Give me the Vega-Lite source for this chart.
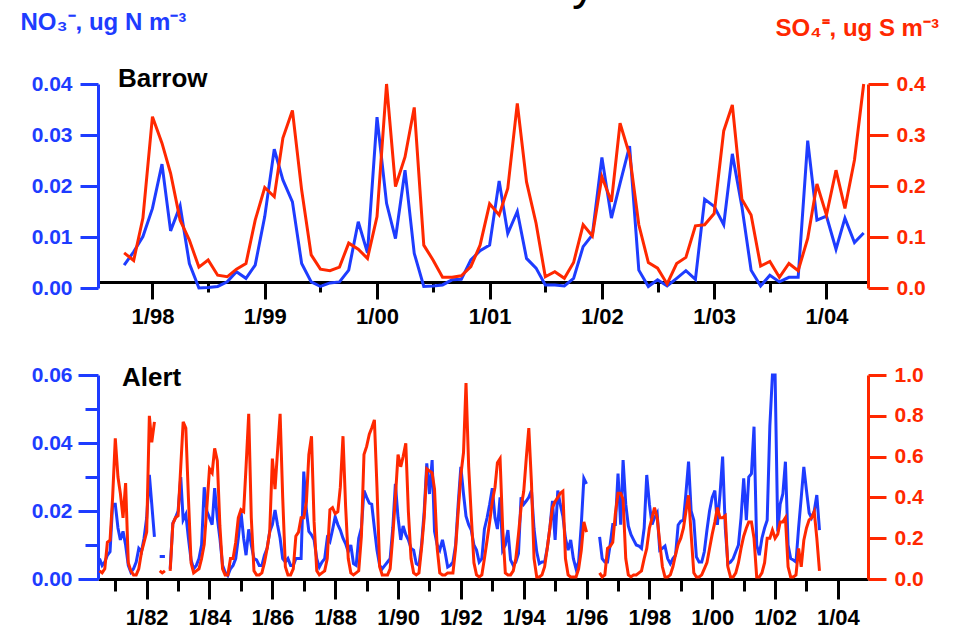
{
"$schema": "https://vega.github.io/schema/vega-lite/v6.json",
"autosize": {"type": "none"},
"padding": {"left": 98, "top": 84, "right": 859, "bottom": 547},
"background": "white",
"title": {"text": "y", "anchor": "start", "frame": "group", "dx": 474, "offset": 0, "dy": 37, "baseline": "alphabetic", "fontSize": 48, "fontWeight": "normal", "color": "black", "font": "Liberation Sans"},
"datasets": {
"barrow": [
{"d":"1997/10/01","n":0.0045,"s":0.069},{"d":"1997/11/01","n":0.0071,"s":0.054},{"d":"1997/12/01","n":0.0101,"s":0.137},
{"d":"1998/01/01","n":0.0156,"s":0.336},{"d":"1998/02/01","n":0.0243,"s":0.284},{"d":"1998/03/01","n":0.0112,"s":0.225},{"d":"1998/04/01","n":0.0161,"s":0.133},{"d":"1998/05/01","n":0.0048,"s":0.094},{"d":"1998/06/01","n":0.0,"s":0.041},{"d":"1998/07/01","n":0.0001,"s":0.055},{"d":"1998/08/01","n":0.0003,"s":0.025},{"d":"1998/09/01","n":0.0012,"s":0.022},{"d":"1998/10/01","n":0.0032,"s":0.037},{"d":"1998/11/01","n":0.0019,"s":0.048},{"d":"1998/12/01","n":0.0045,"s":0.133},
{"d":"1999/01/01","n":0.014,"s":0.197},{"d":"1999/02/01","n":0.0272,"s":0.179},{"d":"1999/03/01","n":0.0212,"s":0.294},{"d":"1999/04/01","n":0.0169,"s":0.348},{"d":"1999/05/01","n":0.0048,"s":0.192},{"d":"1999/06/01","n":0.0012,"s":0.065},{"d":"1999/07/01","n":0.0003,"s":0.037},{"d":"1999/08/01","n":0.001,"s":0.034},{"d":"1999/09/01","n":0.0012,"s":0.041},{"d":"1999/10/01","n":0.0035,"s":0.088},{"d":"1999/11/01","n":0.013,"s":0.076},{"d":"1999/12/01","n":0.0069,"s":0.058},
{"d":"2000/01/01","n":0.0335,"s":0.14},{"d":"2000/02/01","n":0.0166,"s":0.4},{"d":"2000/03/01","n":0.0097,"s":0.199},{"d":"2000/04/01","n":0.0231,"s":0.257},{"d":"2000/05/01","n":0.0068,"s":0.354},{"d":"2000/06/01","n":0.0003,"s":0.084},{"d":"2000/07/01","n":0.0004,"s":0.055},{"d":"2000/08/01","n":0.0006,"s":0.021},{"d":"2000/09/01","n":0.0016,"s":0.021},{"d":"2000/10/01","n":0.0017,"s":0.024},{"d":"2000/11/01","n":0.0055,"s":0.042},{"d":"2000/12/01","n":0.0073,"s":0.084},
{"d":"2001/01/01","n":0.0084,"s":0.165},{"d":"2001/02/01","n":0.021,"s":0.143},{"d":"2001/03/01","n":0.0107,"s":0.195},{"d":"2001/04/01","n":0.015,"s":0.362},{"d":"2001/05/01","n":0.0058,"s":0.208},{"d":"2001/06/01","n":0.0039,"s":0.127},{"d":"2001/07/01","n":0.0006,"s":0.022},{"d":"2001/08/01","n":0.0006,"s":0.032},{"d":"2001/09/01","n":0.0004,"s":0.019},{"d":"2001/10/01","n":0.0019,"s":0.05},{"d":"2001/11/01","n":0.0081,"s":0.124},{"d":"2001/12/01","n":0.0104,"s":0.102},
{"d":"2002/01/01","n":0.0256,"s":0.218},{"d":"2002/02/01","n":0.0137,"s":0.169},{"d":"2002/03/01","n":0.0205,"s":0.323},{"d":"2002/04/01","n":0.0278,"s":0.261},{"d":"2002/05/01","n":0.0035,"s":0.124},{"d":"2002/06/01","n":0.0003,"s":0.05},{"d":"2002/07/01","n":0.0016,"s":0.039},{"d":"2002/08/01","n":0.0004,"s":0.008},{"d":"2002/09/01","n":0.0019,"s":0.048},{"d":"2002/10/01","n":0.0034,"s":0.06},{"d":"2002/11/01","n":0.0017,"s":0.122},{"d":"2002/12/01","n":0.0174,"s":0.124},
{"d":"2003/01/01","n":0.016,"s":0.146},{"d":"2003/02/01","n":0.0124,"s":0.308},{"d":"2003/03/01","n":0.0263,"s":0.359},{"d":"2003/04/01","n":0.016,"s":0.174},{"d":"2003/05/01","n":0.0035,"s":0.143},{"d":"2003/06/01","n":0.0004,"s":0.043},{"d":"2003/07/01","n":0.0025,"s":0.052},{"d":"2003/08/01","n":0.0012,"s":0.021},{"d":"2003/09/01","n":0.0021,"s":0.048},{"d":"2003/10/01","n":0.0021,"s":0.034},{"d":"2003/11/01","n":0.0289,"s":0.097},{"d":"2003/12/01","n":0.0133,"s":0.204},
{"d":"2004/01/01","n":0.0141,"s":0.143},{"d":"2004/02/01","n":0.0076,"s":0.231},{"d":"2004/03/01","n":0.0137,"s":0.156},{"d":"2004/04/01","n":0.0089,"s":0.251},{"d":"2004/05/01","n":0.0108,"s":0.4}
],
"alert": [
{"d":"1980/07/01","n":0.006,"s":0.04},{"d":"1980/08/01","n":0.004,"s":0.03},{"d":"1980/09/01","n":0.005,"s":0.05},{"d":"1980/10/01","n":0.007,"s":0.18},{"d":"1980/11/01","n":0.008,"s":0.19},{"d":"1980/12/01","n":0.022,"s":0.40},
{"d":"1981/01/01","n":0.022,"s":0.69},{"d":"1981/02/01","n":0.015,"s":0.50},{"d":"1981/03/01","n":0.0115,"s":0.42},{"d":"1981/04/01","n":0.014,"s":0.30},{"d":"1981/05/01","n":0.010,"s":0.47},{"d":"1981/06/01","n":0.004,"s":0.08},{"d":"1981/07/01","n":0.002,"s":0.04},{"d":"1981/08/01","n":0.003,"s":0.02},{"d":"1981/09/01","n":0.005,"s":0.02},{"d":"1981/10/01","n":0.009,"s":0.05},{"d":"1981/11/01","n":0.008,"s":0.13},{"d":"1981/12/01","n":0.012,"s":0.18},
{"d":"1982/01/01","n":0.018,"s":0.23},{"d":"1982/02/01","n":0.0306,"s":0.80},{"d":"1982/03/01","n":0.022,"s":0.67},{"d":"1982/04/01","n":0.0124,"s":0.77},{"d":"1982/05/01","n":null,"s":null},{"d":"1982/06/01","n":0.0066,"s":0.04},{"d":"1982/07/01","n":0.0066,"s":0.03},{"d":"1982/08/01","n":0.0066,"s":0.04},{"d":"1982/09/01","n":null,"s":null},{"d":"1982/10/01","n":0.003,"s":0.04},{"d":"1982/11/01","n":0.0164,"s":0.27},{"d":"1982/12/01","n":0.018,"s":0.30},
{"d":"1983/01/01","n":0.020,"s":0.31},{"d":"1983/02/01","n":0.030,"s":0.55},{"d":"1983/03/01","n":0.0174,"s":0.77},{"d":"1983/04/01","n":0.019,"s":0.74},{"d":"1983/05/01","n":0.012,"s":0.40},{"d":"1983/06/01","n":0.0056,"s":0.08},{"d":"1983/07/01","n":0.003,"s":0.03},{"d":"1983/08/01","n":0.004,"s":0.04},{"d":"1983/09/01","n":0.006,"s":0.05},{"d":"1983/10/01","n":0.010,"s":0.10},{"d":"1983/11/01","n":0.027,"s":0.17},{"d":"1983/12/01","n":0.020,"s":0.35},
{"d":"1984/01/01","n":0.018,"s":0.54},{"d":"1984/02/01","n":0.016,"s":0.52},{"d":"1984/03/01","n":0.0267,"s":0.64},{"d":"1984/04/01","n":0.018,"s":0.58},{"d":"1984/05/01","n":0.012,"s":0.26},{"d":"1984/06/01","n":0.004,"s":0.05},{"d":"1984/07/01","n":0.002,"s":0.02},{"d":"1984/08/01","n":0.001,"s":0.02},{"d":"1984/09/01","n":0.003,"s":0.10},{"d":"1984/10/01","n":0.004,"s":0.10},{"d":"1984/11/01","n":0.006,"s":0.18},{"d":"1984/12/01","n":0.012,"s":0.30},
{"d":"1985/01/01","n":0.0198,"s":0.34},{"d":"1985/02/01","n":0.012,"s":0.33},{"d":"1985/03/01","n":0.007,"s":0.55},{"d":"1985/04/01","n":0.0146,"s":0.81},{"d":"1985/05/01","n":0.010,"s":0.30},{"d":"1985/06/01","n":0.006,"s":0.04},{"d":"1985/07/01","n":0.0056,"s":0.02},{"d":"1985/08/01","n":0.004,"s":0.02},{"d":"1985/09/01","n":0.004,"s":0.03},{"d":"1985/10/01","n":0.007,"s":0.08},{"d":"1985/11/01","n":0.009,"s":0.15},{"d":"1985/12/01","n":0.0139,"s":0.23},
{"d":"1986/01/01","n":0.016,"s":0.59},{"d":"1986/02/01","n":0.0203,"s":0.44},{"d":"1986/03/01","n":0.016,"s":0.62},{"d":"1986/04/01","n":0.012,"s":0.81},{"d":"1986/05/01","n":0.006,"s":0.40},{"d":"1986/06/01","n":0.005,"s":0.06},{"d":"1986/07/01","n":0.006,"s":0.02},{"d":"1986/08/01","n":0.004,"s":0.02},{"d":"1986/09/01","n":0.004,"s":0.05},{"d":"1986/10/01","n":0.006,"s":0.21},{"d":"1986/11/01","n":0.006,"s":0.23},{"d":"1986/12/01","n":0.006,"s":0.30},
{"d":"1987/01/01","n":0.0316,"s":0.30},{"d":"1987/02/01","n":0.020,"s":0.38},{"d":"1987/03/01","n":0.014,"s":0.61},{"d":"1987/04/01","n":0.013,"s":0.70},{"d":"1987/05/01","n":0.0115,"s":0.28},{"d":"1987/06/01","n":0.006,"s":0.04},{"d":"1987/07/01","n":0.0035,"s":0.02},{"d":"1987/08/01","n":0.005,"s":0.03},{"d":"1987/09/01","n":0.006,"s":0.04},{"d":"1987/10/01","n":0.012,"s":0.10},{"d":"1987/11/01","n":0.011,"s":0.34},{"d":"1987/12/01","n":0.0144,"s":0.35},
{"d":"1988/01/01","n":0.0183,"s":0.32},{"d":"1988/02/01","n":0.016,"s":0.33},{"d":"1988/03/01","n":0.0144,"s":0.45},{"d":"1988/04/01","n":0.012,"s":0.70},{"d":"1988/05/01","n":0.0104,"s":0.36},{"d":"1988/06/01","n":0.008,"s":0.10},{"d":"1988/07/01","n":0.010,"s":0.03},{"d":"1988/08/01","n":0.0045,"s":0.02},{"d":"1988/09/01","n":0.004,"s":0.03},{"d":"1988/10/01","n":0.012,"s":0.04},{"d":"1988/11/01","n":0.015,"s":0.21},{"d":"1988/12/01","n":0.026,"s":0.61},
{"d":"1989/01/01","n":0.024,"s":0.65},{"d":"1989/02/01","n":0.0223,"s":0.71},{"d":"1989/03/01","n":0.022,"s":0.74},{"d":"1989/04/01","n":0.015,"s":0.78},{"d":"1989/05/01","n":0.0085,"s":0.45},{"d":"1989/06/01","n":0.004,"s":0.06},{"d":"1989/07/01","n":0.003,"s":0.02},{"d":"1989/08/01","n":0.004,"s":0.02},{"d":"1989/09/01","n":0.005,"s":0.02},{"d":"1989/10/01","n":0.006,"s":0.05},{"d":"1989/11/01","n":0.015,"s":0.21},{"d":"1989/12/01","n":0.028,"s":0.40},
{"d":"1990/01/01","n":0.018,"s":0.61},{"d":"1990/02/01","n":0.0115,"s":0.55},{"d":"1990/03/01","n":0.0156,"s":0.60},{"d":"1990/04/01","n":0.013,"s":0.665},{"d":"1990/05/01","n":0.0115,"s":0.33},{"d":"1990/06/01","n":0.009,"s":0.10},{"d":"1990/07/01","n":0.0085,"s":0.03},{"d":"1990/08/01","n":0.0045,"s":0.02},{"d":"1990/09/01","n":0.004,"s":0.03},{"d":"1990/10/01","n":0.010,"s":0.15},{"d":"1990/11/01","n":0.020,"s":0.30},{"d":"1990/12/01","n":0.034,"s":0.54},
{"d":"1991/01/01","n":0.025,"s":0.53},{"d":"1991/02/01","n":0.035,"s":0.52},{"d":"1991/03/01","n":0.014,"s":0.44},{"d":"1991/04/01","n":0.010,"s":0.15},{"d":"1991/05/01","n":0.0085,"s":0.03},{"d":"1991/06/01","n":0.0115,"s":0.02},{"d":"1991/07/01","n":0.008,"s":0.02},{"d":"1991/08/01","n":0.0035,"s":0.03},{"d":"1991/09/01","n":0.004,"s":0.03},{"d":"1991/10/01","n":0.005,"s":0.03},{"d":"1991/11/01","n":0.010,"s":0.15},{"d":"1991/12/01","n":0.022,"s":0.33},
{"d":"1992/01/01","n":0.033,"s":0.51},{"d":"1992/02/01","n":0.025,"s":0.62},{"d":"1992/03/01","n":0.0185,"s":0.96},{"d":"1992/04/01","n":0.016,"s":0.55},{"d":"1992/05/01","n":0.0144,"s":0.31},{"d":"1992/06/01","n":0.010,"s":0.08},{"d":"1992/07/01","n":0.0085,"s":0.02},{"d":"1992/08/01","n":0.005,"s":0.01},{"d":"1992/09/01","n":0.006,"s":0.02},{"d":"1992/10/01","n":0.0147,"s":0.10},{"d":"1992/11/01","n":0.018,"s":0.19},{"d":"1992/12/01","n":0.022,"s":0.28},
{"d":"1993/01/01","n":0.0267,"s":0.38},{"d":"1993/02/01","n":0.018,"s":0.45},{"d":"1993/03/01","n":0.0147,"s":0.57},{"d":"1993/04/01","n":0.024,"s":0.59},{"d":"1993/05/01","n":0.0085,"s":0.25},{"d":"1993/06/01","n":0.010,"s":0.03},{"d":"1993/07/01","n":0.0144,"s":0.02},{"d":"1993/08/01","n":0.0056,"s":0.02},{"d":"1993/09/01","n":0.004,"s":0.04},{"d":"1993/10/01","n":0.005,"s":0.10},{"d":"1993/11/01","n":0.0075,"s":0.22},{"d":"1993/12/01","n":0.024,"s":0.35},
{"d":"1994/01/01","n":0.022,"s":0.43},{"d":"1994/02/01","n":0.023,"s":0.60},{"d":"1994/03/01","n":0.024,"s":0.74},{"d":"1994/04/01","n":0.026,"s":0.47},{"d":"1994/05/01","n":0.0147,"s":0.10},{"d":"1994/06/01","n":0.008,"s":0.01},{"d":"1994/07/01","n":0.0045,"s":0.01},{"d":"1994/08/01","n":0.005,"s":0.02},{"d":"1994/09/01","n":0.005,"s":0.06},{"d":"1994/10/01","n":0.009,"s":0.15},{"d":"1994/11/01","n":0.015,"s":0.25},{"d":"1994/12/01","n":0.023,"s":0.35},
{"d":"1995/01/01","n":0.0115,"s":0.38},{"d":"1995/02/01","n":0.026,"s":0.40},{"d":"1995/03/01","n":0.022,"s":0.42},{"d":"1995/04/01","n":0.0185,"s":0.43},{"d":"1995/05/01","n":0.012,"s":0.10},{"d":"1995/06/01","n":0.0085,"s":0.02},{"d":"1995/07/01","n":0.0115,"s":0.01},{"d":"1995/08/01","n":0.006,"s":0.01},{"d":"1995/09/01","n":0.003,"s":0.01},{"d":"1995/10/01","n":0.005,"s":0.05},{"d":"1995/11/01","n":0.016,"s":0.14},{"d":"1995/12/01","n":0.0296,"s":0.28},
{"d":"1996/01/01","n":0.028,"s":0.23},{"d":"1996/02/01","n":null,"s":null},{"d":"1996/03/01","n":null,"s":null},{"d":"1996/04/01","n":null,"s":null},{"d":"1996/05/01","n":null,"s":null},{"d":"1996/06/01","n":0.0124,"s":0.03},{"d":"1996/07/01","n":0.006,"s":0.01},{"d":"1996/08/01","n":0.005,"s":0.02},{"d":"1996/09/01","n":0.005,"s":0.15},{"d":"1996/10/01","n":0.010,"s":0.16},{"d":"1996/11/01","n":0.016,"s":0.18},{"d":"1996/12/01","n":0.016,"s":0.32},
{"d":"1997/01/01","n":0.031,"s":0.42},{"d":"1997/02/01","n":0.016,"s":0.42},{"d":"1997/03/01","n":0.035,"s":0.39},{"d":"1997/04/01","n":0.022,"s":0.10},{"d":"1997/05/01","n":0.0156,"s":0.02},{"d":"1997/06/01","n":0.013,"s":0.01},{"d":"1997/07/01","n":0.0115,"s":0.02},{"d":"1997/08/01","n":0.010,"s":0.02},{"d":"1997/09/01","n":0.0097,"s":0.03},{"d":"1997/10/01","n":0.009,"s":0.04},{"d":"1997/11/01","n":0.015,"s":0.10},{"d":"1997/12/01","n":0.0306,"s":0.15},
{"d":"1998/01/01","n":0.022,"s":0.25},{"d":"1998/02/01","n":0.016,"s":0.30},{"d":"1998/03/01","n":0.018,"s":0.35},{"d":"1998/04/01","n":0.0194,"s":0.30},{"d":"1998/05/01","n":0.0085,"s":0.18},{"d":"1998/06/01","n":0.009,"s":0.06},{"d":"1998/07/01","n":0.0097,"s":0.01},{"d":"1998/08/01","n":0.006,"s":0.01},{"d":"1998/09/01","n":0.0045,"s":0.02},{"d":"1998/10/01","n":0.006,"s":0.06},{"d":"1998/11/01","n":0.007,"s":0.12},{"d":"1998/12/01","n":0.0159,"s":0.17},
{"d":"1999/01/01","n":0.017,"s":0.20},{"d":"1999/02/01","n":0.0173,"s":0.25},{"d":"1999/03/01","n":0.025,"s":0.33},{"d":"1999/04/01","n":0.0345,"s":0.41},{"d":"1999/05/01","n":0.020,"s":0.22},{"d":"1999/06/01","n":0.0173,"s":0.03},{"d":"1999/07/01","n":0.0065,"s":0.01},{"d":"1999/08/01","n":0.005,"s":0.01},{"d":"1999/09/01","n":0.005,"s":0.02},{"d":"1999/10/01","n":0.008,"s":0.05},{"d":"1999/11/01","n":0.0144,"s":0.08},{"d":"1999/12/01","n":0.020,"s":0.15},
{"d":"2000/01/01","n":0.024,"s":0.22},{"d":"2000/02/01","n":0.026,"s":0.28},{"d":"2000/03/01","n":0.0159,"s":0.35},{"d":"2000/04/01","n":0.025,"s":0.30},{"d":"2000/05/01","n":0.036,"s":0.30},{"d":"2000/06/01","n":0.015,"s":0.31},{"d":"2000/07/01","n":0.0045,"s":0.06},{"d":"2000/08/01","n":0.005,"s":0.01},{"d":"2000/09/01","n":0.006,"s":0.01},{"d":"2000/10/01","n":0.008,"s":0.03},{"d":"2000/11/01","n":0.010,"s":0.08},{"d":"2000/12/01","n":0.018,"s":0.15},
{"d":"2001/01/01","n":0.0296,"s":0.21},{"d":"2001/02/01","n":0.0173,"s":0.25},{"d":"2001/03/01","n":0.030,"s":0.28},{"d":"2001/04/01","n":0.031,"s":0.28},{"d":"2001/05/01","n":0.0448,"s":0.20},{"d":"2001/06/01","n":0.010,"s":0.01},{"d":"2001/07/01","n":0.007,"s":0.01},{"d":"2001/08/01","n":0.012,"s":0.03},{"d":"2001/09/01","n":0.015,"s":0.08},{"d":"2001/10/01","n":0.0173,"s":0.20},{"d":"2001/11/01","n":0.045,"s":0.20},{"d":"2001/12/01","n":0.06,"s":0.24},
{"d":"2002/01/01","n":0.06,"s":0.20},{"d":"2002/02/01","n":0.014,"s":0.22},{"d":"2002/03/01","n":0.022,"s":0.28},{"d":"2002/04/01","n":0.025,"s":0.28},{"d":"2002/05/01","n":0.0345,"s":0.30},{"d":"2002/06/01","n":0.010,"s":0.06},{"d":"2002/07/01","n":0.006,"s":0.01},{"d":"2002/08/01","n":0.0056,"s":0.01},{"d":"2002/09/01","n":0.005,"s":0.02},{"d":"2002/10/01","n":0.015,"s":0.15},{"d":"2002/11/01","n":0.024,"s":0.06},{"d":"2002/12/01","n":0.033,"s":0.19},
{"d":"2003/01/01","n":0.026,"s":0.25},{"d":"2003/02/01","n":0.0194,"s":0.29},{"d":"2003/03/01","n":0.018,"s":0.30},{"d":"2003/04/01","n":0.020,"s":0.33},{"d":"2003/05/01","n":0.0247,"s":0.20},{"d":"2003/06/01","n":0.0144,"s":0.04}
]
},
"spacing": 87,
"bounds": "flush",
"vconcat": [
{
"width": 770, "height": 204,
"title": {"text": "Barrow", "anchor": "start", "frame": "group", "dx": 20, "offset": 0, "dy": 103, "baseline": "alphabetic", "fontSize": 26, "font": "Liberation Sans", "fontWeight": "bold", "color": "black"},
"data": {"name": "barrow"},
"encoding": {
"x": {"field": "d", "type": "temporal",
"scale": {"domain": [{"year": 1997, "month": 7, "date": 8}, {"year": 2004, "month": 5, "date": 15}]},
"axis": {"title": null, "offset": -6,
"values": [{"year":1998,"month":1,"date":1},{"year":1998,"month":7,"date":1},{"year":1999,"month":1,"date":1},{"year":1999,"month":7,"date":1},{"year":2000,"month":1,"date":1},{"year":2000,"month":7,"date":1},{"year":2001,"month":1,"date":1},{"year":2001,"month":7,"date":1},{"year":2002,"month":1,"date":1},{"year":2002,"month":7,"date":1},{"year":2003,"month":1,"date":1},{"year":2003,"month":7,"date":1},{"year":2004,"month":1,"date":1}],
"labelExpr": "month(datum.value) == 0 ? timeFormat(datum.value, '%-m/%y') : ''",
"tickSize": {"condition": {"test": "month(datum.value) == 0", "value": 17}, "value": 10},
"labelPadding": 7,
"domainColor": "black", "tickColor": "black", "labelColor": "black", "labelFontSize": 22}
}
},
"layer": [
{"mark": {"type": "line", "color": "#1e3cff", "strokeWidth": 3},
"encoding": {"y": {"field": "n", "type": "quantitative", "scale": {"domain": [0, 0.04], "nice": false},
"axis": {"orient": "left", "values": [0, 0.01, 0.02, 0.03, 0.04], "format": ".2f", "tickSize": 18, "labelPadding": 8,
"domainColor": "#1e3cff", "tickColor": "#1e3cff", "labelColor": "#1e3cff", "labelFontSize": 21,
"title": "NO\u2083\u207b, ug N m\u207b\u00b3", "titleAngle": 0, "titleX": -78, "titleY": -62, "titleAlign": "left", "titleBaseline": "middle", "titleColor": "#1e3cff", "titleFontSize": 24, "titleFont": "Liberation Sans", "titleFontWeight": "bold"}}}},
{"mark": {"type": "line", "color": "#ff2800", "strokeWidth": 3},
"encoding": {"y": {"field": "s", "type": "quantitative", "scale": {"domain": [0, 0.4], "nice": false},
"axis": {"orient": "right", "values": [0, 0.1, 0.2, 0.3, 0.4], "format": ".1f", "tickSize": 20, "labelPadding": 8,
"domainColor": "#ff2800", "tickColor": "#ff2800", "labelColor": "#ff2800", "labelFontSize": 21,
"title": "SO\u2084\u207c, ug S m\u207b\u00b3", "titleAngle": 0, "titleX": -93, "titleY": -56, "titleAlign": "left", "titleBaseline": "middle", "titleColor": "#ff2800", "titleFontSize": 24, "titleFont": "Liberation Sans", "titleFontWeight": "bold"}}}}
],
"resolve": {"scale": {"y": "independent"}}
},
{
"width": 770, "height": 204,
"title": {"text": "Alert", "anchor": "start", "frame": "group", "dx": 24, "offset": 0, "dy": 48, "baseline": "alphabetic", "fontSize": 26, "font": "Liberation Sans", "fontWeight": "bold", "color": "black"},
"data": {"name": "alert"},
"encoding": {
"x": {"field": "d", "type": "temporal",
"scale": {"domain": [{"year": 1980, "month": 6, "date": 14}, {"year": 2004, "month": 12, "date": 16}]},
"axis": {"title": null,
"values": [{"year":1981,"month":1,"date":1},{"year":1982,"month":1,"date":1},{"year":1983,"month":1,"date":1},{"year":1984,"month":1,"date":1},{"year":1985,"month":1,"date":1},{"year":1986,"month":1,"date":1},{"year":1987,"month":1,"date":1},{"year":1988,"month":1,"date":1},{"year":1989,"month":1,"date":1},{"year":1990,"month":1,"date":1},{"year":1991,"month":1,"date":1},{"year":1992,"month":1,"date":1},{"year":1993,"month":1,"date":1},{"year":1994,"month":1,"date":1},{"year":1995,"month":1,"date":1},{"year":1996,"month":1,"date":1},{"year":1997,"month":1,"date":1},{"year":1998,"month":1,"date":1},{"year":1999,"month":1,"date":1},{"year":2000,"month":1,"date":1},{"year":2001,"month":1,"date":1},{"year":2002,"month":1,"date":1},{"year":2003,"month":1,"date":1},{"year":2004,"month":1,"date":1}],
"labelExpr": "year(datum.value) % 2 == 0 ? timeFormat(datum.value, '%-m/%y') : ''",
"tickSize": {"condition": {"test": "year(datum.value) % 2 == 0", "value": 20}, "value": 12},
"labelPadding": 8,
"domainColor": "black", "tickColor": "black", "labelColor": "black", "labelFontSize": 22}
}
},
"layer": [
{"mark": {"type": "line", "color": "#1e3cff", "strokeWidth": 3, "invalid": "break-paths-show-domains"},
"encoding": {"y": {"field": "n", "type": "quantitative", "scale": {"domain": [0, 0.06], "nice": false},
"axis": {"orient": "left", "values": [0, 0.01, 0.02, 0.03, 0.04, 0.05, 0.06],
"labelExpr": "round(datum.value * 100) % 2 == 0 ? format(datum.value, '.2f') : ''",
"tickSize": {"condition": {"test": "round(datum.value * 100) % 2 == 0", "value": 20}, "value": 13}, "labelPadding": 6,
"domainColor": "#1e3cff", "tickColor": "#1e3cff", "labelColor": "#1e3cff", "labelFontSize": 21, "title": null}}}},
{"mark": {"type": "line", "color": "#ff2800", "strokeWidth": 3, "invalid": "break-paths-show-domains"},
"encoding": {"y": {"field": "s", "type": "quantitative", "scale": {"domain": [0, 1], "nice": false},
"axis": {"orient": "right", "values": [0, 0.2, 0.4, 0.6, 0.8, 1.0], "format": ".1f", "tickSize": 18, "labelPadding": 8,
"domainColor": "#ff2800", "tickColor": "#ff2800", "labelColor": "#ff2800", "labelFontSize": 21, "title": null}}}}
],
"resolve": {"scale": {"y": "independent"}}
}
],
"config": {
"view": {"stroke": null},
"font": "Liberation Sans",
"axis": {"grid": false, "labelFont": "Liberation Sans", "labelFontWeight": "bold", "labelFlush": false, "labelOverlap": false, "labelBound": false, "domainWidth": 3, "tickWidth": 3}
}
}
